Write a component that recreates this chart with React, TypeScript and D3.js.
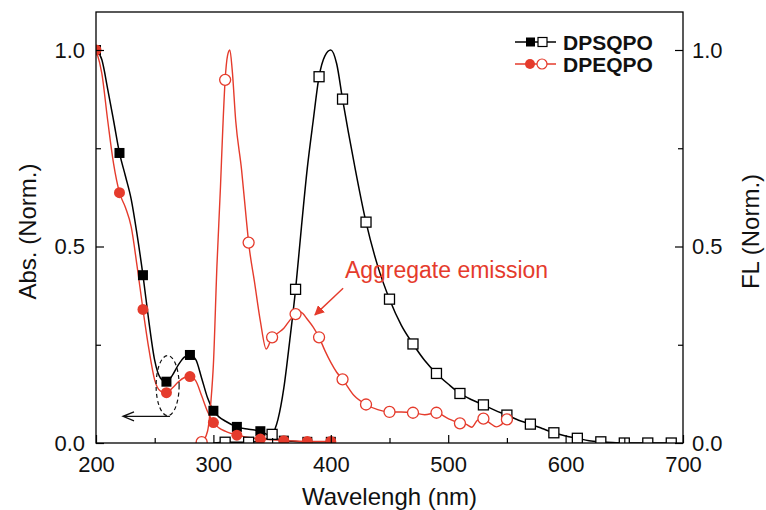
import React, { useEffect, useRef } from "react";
import * as d3 from "d3";

// absorption spectra (left axis)
const absWl = [200, 205, 210, 215, 220, 225, 230, 235, 240, 245, 250, 255, 260, 265, 270, 275, 280, 285, 290, 295, 300, 305, 310, 320, 330, 340, 350, 360, 370, 380, 390, 400];
const dpsqpoAbs = [1.0, 0.975, 0.9, 0.82, 0.738, 0.68, 0.62, 0.53, 0.427, 0.31, 0.21, 0.165, 0.156, 0.172, 0.198, 0.218, 0.224, 0.212, 0.165, 0.115, 0.082, 0.066, 0.056, 0.041, 0.035, 0.03, 0.015, 0.006, 0.004, 0.003, 0.003, 0.003];
const dpeqpoAbs = [1.0, 0.94, 0.82, 0.71, 0.637, 0.6, 0.55, 0.45, 0.34, 0.24, 0.16, 0.132, 0.128, 0.14, 0.155, 0.166, 0.169, 0.158, 0.12, 0.08, 0.052, 0.038, 0.03, 0.02, 0.014, 0.01, 0.008, 0.006, 0.005, 0.004, 0.004, 0.004];

// fluorescence spectra (right axis)
const dpsqpoFlWl = [300, 310, 320, 330, 340, 350, 355, 360, 365, 370, 375, 380, 385, 390, 395, 400, 405, 410, 420, 430, 440, 450, 460, 470, 480, 490, 500, 510, 520, 530, 540, 550, 560, 570, 580, 590, 600, 610, 620, 630, 640, 650, 660, 670, 680, 690];
const dpsqpoFl = [0, 0.002, 0.002, 0.002, 0.005, 0.022, 0.06, 0.14, 0.26, 0.391, 0.55, 0.7, 0.82, 0.932, 0.985, 1.0, 0.965, 0.875, 0.71, 0.562, 0.45, 0.366, 0.3, 0.252, 0.21, 0.177, 0.15, 0.126, 0.11, 0.097, 0.083, 0.071, 0.058, 0.048, 0.037, 0.026, 0.018, 0.012, 0.006, 0.003, 0.001, 0, 0, 0, 0, 0];
const dpeqpoFlWl = [285, 290, 295, 298, 300, 303, 306, 308, 310, 312, 314, 316, 319, 324, 328, 330, 335, 340, 345, 350, 355, 360, 365, 370, 373, 376, 380, 385, 390, 395, 400, 405, 410, 420, 430, 440, 450, 460, 470, 480, 490, 500, 510, 515, 520, 525, 530, 535, 541, 545, 550, 553];
const dpeqpoFl = [0, 0.002, 0.03, 0.11, 0.2, 0.45, 0.65, 0.8, 0.924, 0.985, 1.0, 0.95, 0.82, 0.695, 0.57, 0.51, 0.41, 0.31, 0.239, 0.269, 0.28, 0.292, 0.312, 0.328, 0.335, 0.33, 0.315, 0.295, 0.269, 0.235, 0.205, 0.18, 0.162, 0.12, 0.098, 0.085, 0.079, 0.079, 0.077, 0.072, 0.077, 0.062, 0.05, 0.048, 0.04, 0.058, 0.062, 0.052, 0.041, 0.046, 0.06, 0.062];

// wavelengths that carry a symbol
const absMarkWl = [200, 220, 240, 260, 280, 300, 320, 340, 360, 380, 400];
const dpsqpoFlMarkWl = [310, 330, 350, 370, 390, 410, 430, 450, 470, 490, 510, 530, 550, 570, 590, 610, 630, 650, 670, 690];
const dpeqpoFlMarkWl = [290, 310, 330, 350, 370, 390, 410, 430, 450, 470, 490, 510, 530, 550];

const xTicks = [200, 300, 400, 500, 600, 700];
const xMinor = [250, 350, 450, 550, 650];
const yTicks = [0, 0.5, 1.0];
const yMinor = [0.25, 0.75];
const seriesNames = ["DPSQPO", "DPEQPO"];

const RED = "#e53b2c";
const FONT = "'Liberation Sans', Arial, Helvetica, sans-serif";

function App() {
  const chartRef = useRef<SVGSVGElement>(null);

  useEffect(() => {
    drawChart();
  }, []);

  const drawChart = () => {
    const W = 766, H = 510;
    const margin = { top: 12, right: 83, bottom: 67, left: 96 };
    const left = margin.left, right = W - margin.right;
    const top = margin.top, bottom = H - margin.bottom;

    const svg = d3.select(chartRef.current);
    svg.selectAll("*").remove();

    const x = d3.scaleLinear().domain([200, 700]).range([left, right]);
    const y = d3.scaleLinear().domain([0, 1]).range([bottom, 50]);

    svg.append("clipPath").attr("id", "plot-clip")
      .append("rect")
      .attr("x", left).attr("y", top)
      .attr("width", right - left).attr("height", bottom - top);

    const plot = svg.append("g").attr("clip-path", "url(#plot-clip)");

    const line = d3.line<[number, number]>()
      .x(d => x(d[0]))
      .y(d => y(d[1]))
      .curve(d3.curveMonotoneX);

    const pairs = (wl: number[], v: number[]) => wl.map((w, i) => [w, v[i]] as [number, number]);
    const marks = (wl: number[], v: number[], at: number[]) =>
      at.map(w => [w, v[wl.indexOf(w)]] as [number, number]);

    // lines: black first, red over it
    plot.append("path").datum(pairs(absWl, dpsqpoAbs))
      .attr("d", line).attr("fill", "none").attr("stroke", "#000").attr("stroke-width", 1.5);
    plot.append("path").datum(pairs(dpsqpoFlWl, dpsqpoFl))
      .attr("d", line).attr("fill", "none").attr("stroke", "#000").attr("stroke-width", 1.5);
    plot.append("path").datum(pairs(absWl, dpeqpoAbs))
      .attr("d", line).attr("fill", "none").attr("stroke", RED).attr("stroke-width", 1.4);
    plot.append("path").datum(pairs(dpeqpoFlWl, dpeqpoFl))
      .attr("d", line).attr("fill", "none").attr("stroke", RED).attr("stroke-width", 1.4);

    const sq = 10;
    // DPSQPO symbols
    plot.selectAll("rect.abs-sq")
      .data(marks(absWl, dpsqpoAbs, absMarkWl))
      .enter().append("rect")
      .attr("x", d => x(d[0]) - sq / 2).attr("y", d => y(d[1]) - sq / 2)
      .attr("width", sq).attr("height", sq).attr("fill", "#000");
    plot.selectAll("rect.fl-sq")
      .data(marks(dpsqpoFlWl, dpsqpoFl, dpsqpoFlMarkWl))
      .enter().append("rect")
      .attr("x", d => x(d[0]) - sq / 2).attr("y", d => y(d[1]) - sq / 2)
      .attr("width", sq).attr("height", sq)
      .attr("fill", "#fff").attr("stroke", "#000").attr("stroke-width", 1.3);

    // DPEQPO symbols
    plot.selectAll("circle.abs-c")
      .data(marks(absWl, dpeqpoAbs, absMarkWl))
      .enter().append("circle")
      .attr("cx", d => x(d[0])).attr("cy", d => y(d[1])).attr("r", 5.5)
      .attr("fill", RED);
    plot.selectAll("circle.fl-c")
      .data(marks(dpeqpoFlWl, dpeqpoFl, dpeqpoFlMarkWl))
      .enter().append("circle")
      .attr("cx", d => x(d[0])).attr("cy", d => y(d[1])).attr("r", 5.5)
      .attr("fill", "#fff").attr("stroke", RED).attr("stroke-width", 1.3);

    // frame
    svg.append("rect")
      .attr("x", left).attr("y", top)
      .attr("width", right - left).attr("height", bottom - top)
      .attr("fill", "none").attr("stroke", "#000").attr("stroke-width", 1.3);

    const styleAxis = (g: any) => {
      g.select(".domain").remove();
      g.selectAll("line").attr("stroke", "#000").attr("stroke-width", 1.2);
      g.selectAll("text").style("font-size", "22px").style("font-family", FONT).attr("fill", "#111");
    };

    // bottom axis
    svg.append("g").attr("transform", `translate(0,${bottom})`)
      .call(d3.axisBottom(x).tickValues(xTicks).tickSize(-8).tickPadding(13).tickFormat(d3.format("d")))
      .call(styleAxis);
    svg.append("g").attr("transform", `translate(0,${bottom})`)
      .call(d3.axisBottom(x).tickValues(xMinor).tickSize(-5).tickFormat(() => ""))
      .call(styleAxis);

    // left axis
    svg.append("g").attr("transform", `translate(${left},0)`)
      .call(d3.axisLeft(y).tickValues(yTicks).tickSize(-8).tickPadding(11).tickFormat(d3.format(".1f")))
      .call(styleAxis);
    svg.append("g").attr("transform", `translate(${left},0)`)
      .call(d3.axisLeft(y).tickValues(yMinor).tickSize(-5).tickFormat(() => ""))
      .call(styleAxis);

    // right axis
    svg.append("g").attr("transform", `translate(${right},0)`)
      .call(d3.axisRight(y).tickValues(yTicks).tickSize(-8).tickPadding(9).tickFormat(d3.format(".1f")))
      .call(styleAxis);
    svg.append("g").attr("transform", `translate(${right},0)`)
      .call(d3.axisRight(y).tickValues(yMinor).tickSize(-5).tickFormat(() => ""))
      .call(styleAxis);

    // axis titles
    svg.append("text")
      .attr("x", (left + right) / 2).attr("y", 505)
      .attr("text-anchor", "middle")
      .style("font-size", "24px").style("font-family", FONT).attr("fill", "#111")
      .text("Wavelengh (nm)");
    svg.append("text")
      .attr("transform", `translate(36,${(top + bottom) / 2 + 4}) rotate(-90)`)
      .attr("text-anchor", "middle")
      .style("font-size", "24px").style("font-family", FONT).attr("fill", "#111")
      .text("Abs. (Norm.)");
    svg.append("text")
      .attr("transform", `translate(759,${(top + bottom) / 2 + 4}) rotate(-90)`)
      .attr("text-anchor", "middle")
      .style("font-size", "24px").style("font-family", FONT).attr("fill", "#111")
      .text("FL (Norm.)");

    // legend
    const legendColors = ["#000", RED];
    seriesNames.forEach((name, i) => {
      const ly = 42 + i * 22;
      const g = svg.append("g");
      g.append("line").attr("x1", 515).attr("x2", 556).attr("y1", ly).attr("y2", ly)
        .attr("stroke", legendColors[i]).attr("stroke-width", 1.4);
      if (i === 0) {
        g.append("rect").attr("x", 526).attr("y", ly - 4.5).attr("width", 9).attr("height", 9).attr("fill", "#000");
        g.append("rect").attr("x", 538).attr("y", ly - 4.5).attr("width", 9).attr("height", 9)
          .attr("fill", "#fff").attr("stroke", "#000").attr("stroke-width", 1.2);
      } else {
        g.append("circle").attr("cx", 530).attr("cy", ly).attr("r", 5).attr("fill", RED);
        g.append("circle").attr("cx", 542).attr("cy", ly).attr("r", 5)
          .attr("fill", "#fff").attr("stroke", RED).attr("stroke-width", 1.2);
      }
      g.append("text").attr("x", 563).attr("y", ly + 7.5)
        .style("font-size", "21px").style("font-weight", "bold").style("font-family", FONT)
        .attr("fill", "#111").text(name);
    });

    // "Aggregate emission" note with arrow
    svg.append("defs").append("marker")
      .attr("id", "red-head").attr("viewBox", "0 0 10 10")
      .attr("refX", 9).attr("refY", 5)
      .attr("markerWidth", 10).attr("markerHeight", 10)
      .attr("markerUnits", "userSpaceOnUse")
      .attr("orient", "auto")
      .append("path").attr("d", "M0,0 L10,5 L0,10 Z").attr("fill", RED);
    svg.append("line")
      .attr("x1", x(410.5)).attr("y1", y(0.394))
      .attr("x2", x(386.5)).attr("y2", y(0.326))
      .attr("stroke", RED).attr("stroke-width", 1.4)
      .attr("marker-end", "url(#red-head)");
    svg.append("text")
      .attr("x", x(412)).attr("y", y(0.42))
      .style("font-size", "23px").style("font-family", FONT).attr("fill", RED)
      .text("Aggregate emission");

    // dashed ellipse around the 260 nm valley and arrow to left axis
    svg.append("ellipse")
      .attr("cx", x(261)).attr("cy", y(0.146))
      .attr("rx", 11.5).attr("ry", 30)
      .attr("fill", "none").attr("stroke", "#111").attr("stroke-width", 1.2)
      .attr("stroke-dasharray", "4,3");
    const ay = y(0.068);
    svg.append("path")
      .attr("d", `M${x(263)},${ay} L${x(223)},${ay} M${x(223) + 11},${ay - 4.5} L${x(223)},${ay} L${x(223) + 11},${ay + 4.5}`)
      .attr("fill", "none").attr("stroke", "#111").attr("stroke-width", 1.3);
  };

  return (
    <svg ref={chartRef} width={766} height={510}
      style={{ position: "absolute", left: 0, top: 0, background: "#fff" }} />
  );
}

export default App;
